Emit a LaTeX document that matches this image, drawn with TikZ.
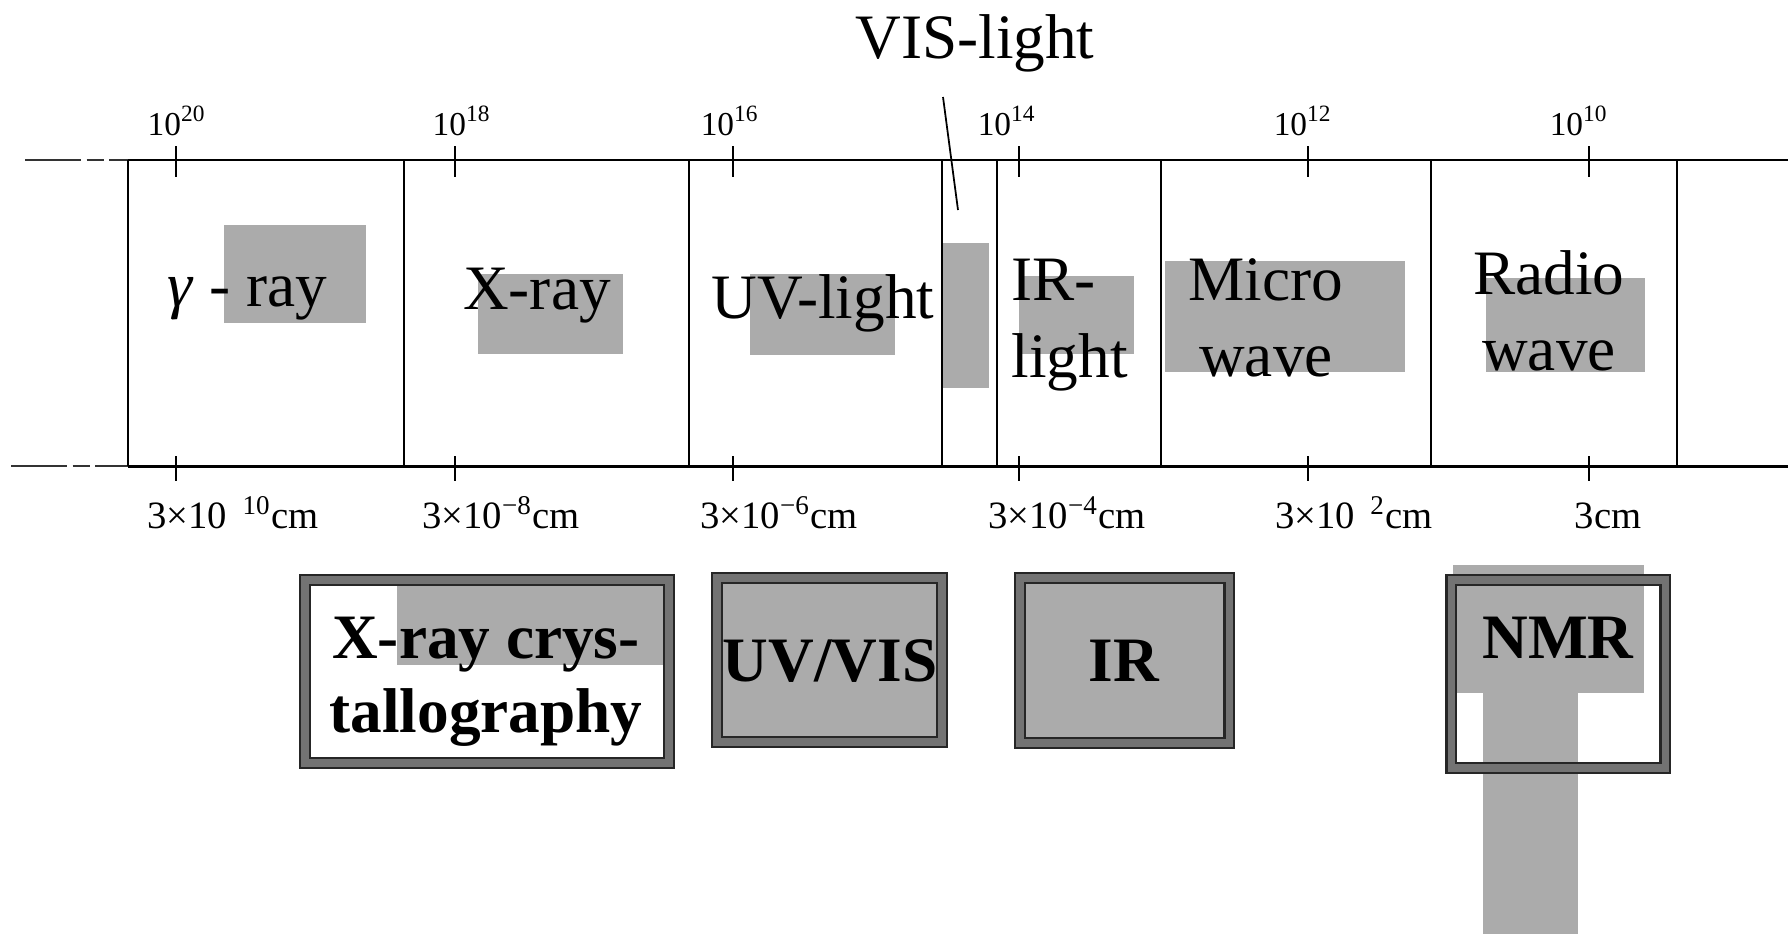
\documentclass[tikz,border=0pt]{standalone}
\usepackage{fontspec}
\setmainfont{Liberation Serif}
\usepackage{tikz}
\tikzset{
  axisline/.style={draw=black,line width=.85pt},
  axisstub/.style={draw=black!80,line width=.6pt,dash pattern=on 16pt off 1.5pt on 5pt off 1.5pt},
  divider/.style={draw=black,line width=.6pt},
  tickmark/.style={draw=black,line width=.5pt},
  leader/.style={draw=black,line width=.5pt},
  shade/.style={fill=black!33,draw=none},
  techframe/.style={draw=black!85,double=black!55,double distance=2pt,line width=.7pt},
  bandlabel/.style={font=\fontsize{18}{21.8}\selectfont,align=center,inner sep=0pt},
  techlabel/.style={font=\bfseries\fontsize{18}{21}\selectfont,align=center,inner sep=0pt},
  freqlabel/.style={font=\fontsize{9.5}{11}\selectfont,inner sep=0pt,anchor=base},
  wavelabel/.style={font=\fontsize{11}{13}\selectfont,inner sep=0pt,anchor=base}
}

\begin{document}
\begin{tikzpicture}[x=.1mm,y=-.1mm]
  \useasboundingbox (0,0) rectangle (1788,934);

  \fill[shade] (224,225) rectangle (366,323);
  \fill[shade] (478,274) rectangle (623,354);
  \fill[shade] (750,274) rectangle (895,355);
  \fill[shade] (942,243) rectangle (989,388);
  \fill[shade] (1019,276) rectangle (1134,354);
  \fill[shade] (1165,261) rectangle (1405,372);
  \fill[shade] (1486,278) rectangle (1645,372);

  \fill[shade] (397,584) rectangle (666,665);
  \fill[shade] (717,578) rectangle (942,742);
  \fill[shade] (1019,578) rectangle (1229,743);
  \fill[shade] (1453,565) rectangle (1644,693);
  \fill[shade] (1483,693) rectangle (1578,934);

  \draw[axisstub] (25,160) -- (128,160);
  \draw[axisline] (128,160) -- (1788,160);
  \draw[axisstub] (11,466) -- (128,466);
  \draw[axisline] (128,466) -- (1788,466);
  \foreach \x in {128,404,689,942,997,1161,1431,1677}
    \draw[divider] (\x,160) -- (\x,466);

  \foreach \x/\lx/\e [count=\i] in {176/177/20,455/462/18,733/730/16,1019/1007/14,1308/1303/12,1589/1579/10} {
    \draw[tickmark] (\x,146) -- (\x,177);
    \draw[tickmark] (\x,456) -- (\x,481);
    \node[freqlabel] (freq\i) at (\lx,135) {10\textsuperscript{\e}};
  }

  \node[wavelabel] (wave1) at (233,528) {3×10\textsuperscript{\phantom{−}10}cm};
  \node[wavelabel] (wave2) at (501,528) {3×10\textsuperscript{−8}cm};
  \node[wavelabel] (wave3) at (779,528) {3×10\textsuperscript{−6}cm};
  \node[wavelabel] (wave4) at (1067,528) {3×10\textsuperscript{−4}cm};
  \node[wavelabel] (wave5) at (1354,528) {3×10\textsuperscript{\phantom{−}2}cm};
  \node[wavelabel] (wave6) at (1608,528) {3cm};

  \node[bandlabel,anchor=base] (vis) at (975,58) {VIS-light};
  \coordinate (vistop) at (943,97);
  \coordinate (visfoot) at (958,210);
  \draw[leader] (vistop) -- (visfoot);

  \node[bandlabel,anchor=base] (gamma) at (247,306) {\textit{γ} - ray};
  \node[bandlabel,anchor=base] (xray) at (537,309) {X-ray};
  \node[bandlabel,anchor=base] (uv) at (823,318) {UV-light};
  \node[bandlabel,align=left,anchor=west] (ir) at (1011,325) {IR-\\light};
  \node[bandlabel] (micro) at (1266,318) {Micro\\wave};
  \node[bandlabel] (radio) at (1549,311) {Radio\\wave};

  \draw[techframe] (305,580) rectangle (669,763);
  \draw[techframe] (717,578) rectangle (942,742);
  \draw[techframe] (1020,578) rectangle (1229,743);
  \draw[techframe] (1451,580) rectangle (1665,768);

  \node[techlabel] (xrd) at (486,682) {X-ray crys-\\tallography};
  \node[techlabel,anchor=base] (uvvis) at (830,681) {UV/VIS};
  \node[techlabel,anchor=base] (irspec) at (1124,681) {IR};
  \node[techlabel,anchor=base] (nmr) at (1558,658) {NMR};
\end{tikzpicture}
\end{document}
